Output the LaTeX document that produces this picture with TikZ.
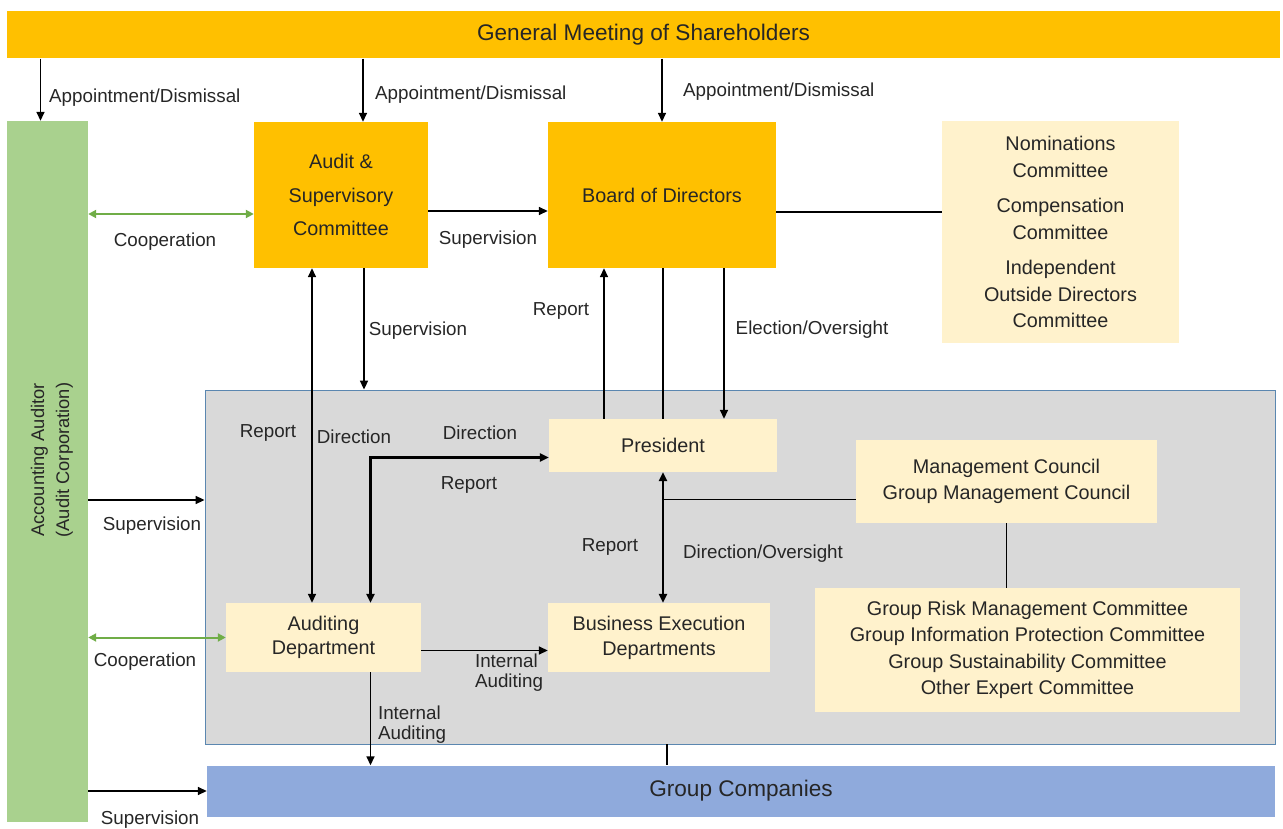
\documentclass[tikz,border=0pt]{standalone}
\usepackage{fontspec}
\setmainfont{Liberation Sans}
\usetikzlibrary{arrows.meta,calc}

\definecolor{gold}{HTML}{FFC000}
\definecolor{leaf}{HTML}{A9D18E}
\definecolor{cream}{HTML}{FFF2CC}
\definecolor{fog}{HTML}{D9D9D9}
\definecolor{sky}{HTML}{8FAADC}
\definecolor{coopgreen}{HTML}{70AD47}
\definecolor{frame}{HTML}{5B87B0}
\definecolor{ink}{HTML}{262626}

\begin{document}
\begin{tikzpicture}[x=1pt,y=-1pt,
    box/.style={inner sep=0pt, align=center, text=ink, font=\fontsize{19.8}{26.5}\selectfont},
    body/.style={box, fill=gold},
    unit/.style={box, fill=cream},
    tag/.style={inner sep=0pt, align=left, text=ink, font=\fontsize{18.8}{20}\selectfont},
    arr/.style={-{Triangle[length=9pt,width=8pt]}, line width=1.6pt},
    both/.style={{Triangle[length=9pt,width=8pt]}-{Triangle[length=9pt,width=8pt]}, line width=1.6pt},
    heavy/.style={both, line width=2.6pt},
    link/.style={line width=1.6pt},
    coop/.style={{Triangle[length=8pt,width=8pt]}-{Triangle[length=8pt,width=8pt]}, line width=2pt, draw=coopgreen}]
  \useasboundingbox (0,0) rectangle (1283,829);

  % Define nodes
  \node[body, minimum width=1273pt, minimum height=47pt, font=\fontsize{22.6}{26}\selectfont] (gms) at (643.5,35) {General Meeting of Shareholders};
  \node[box, fill=leaf, minimum width=81pt, minimum height=701pt] (aa) at (47.5,471.5) {};
  \node[box, rotate=90, font=\fontsize{18.3}{25}\selectfont] (aaname) at (52,460) {Accounting Auditor\\(Audit Corporation)};
  \node[body, minimum width=174pt, minimum height=146pt, font=\fontsize{19.8}{33.5}\selectfont] (asc) at (341,195) {Audit \&\\Supervisory\\Committee};
  \node[body, minimum width=228pt, minimum height=146pt] (bod) at (662,195) {Board of Directors};
  \node[unit, minimum width=237pt, minimum height=222pt] (cmt) at (1060.5,232) {Nominations\\Committee\\[9pt]Compensation\\Committee\\[9pt]Independent\\Outside Directors\\Committee};
  \node[draw=frame, fill=fog, line width=0.8pt, inner sep=0pt, minimum width=1070pt, minimum height=354pt] (ops) at (740,567) {};
  \node[unit, minimum width=228pt, minimum height=53pt] (pres) at (663,445.5) {President};
  \node[unit, minimum width=301pt, minimum height=83pt] (mc) at (1006.5,481.5) {Management Council\\Group Management Council};
  \node[unit, minimum width=425pt, minimum height=124pt] (grc) at (1027.5,650) {Group Risk Management Committee\\Group Information Protection Committee\\Group Sustainability Committee\\Other Expert Committee};
  \node[unit, minimum width=195pt, minimum height=69pt, font=\fontsize{19.8}{24}\selectfont] (aud) at (323.5,637.5) {Auditing\\Department};
  \node[unit, minimum width=222pt, minimum height=69pt, font=\fontsize{19.8}{25}\selectfont] (bed) at (659,637.5) {Business Execution\\Departments};
  \node[box, fill=sky, minimum width=1068pt, minimum height=51pt, font=\fontsize{22.6}{26}\selectfont] (gco) at (741,791) {Group Companies};

  % Labels
  \node[tag, anchor=west] (l1) at (49,98) {Appointment/Dismissal};
  \node[tag, anchor=west] (l2) at (375,95) {Appointment/Dismissal};
  \node[tag, anchor=west] (l3) at (683,92) {Appointment/Dismissal};
  \node[tag] (l4) at (165,242) {Cooperation};
  \node[tag] (l5) at (488,240) {Supervision};
  \node[tag] (l6) at (268,433) {Report};
  \node[tag] (l7) at (354,437) {Direction};
  \node[tag] (l8) at (418,331) {Supervision};
  \node[tag] (l9) at (561,311) {Report};
  \node[tag] (l10) at (812,330) {Election/Oversight};
  \node[tag] (l11) at (480,433) {Direction};
  \node[tag] (l12) at (469,485) {Report};
  \node[tag] (l13) at (610,547) {Report};
  \node[tag] (l14) at (763,554) {Direction/Oversight};
  \node[tag] (l15) at (152,526) {Supervision};
  \node[tag] (l16) at (145,662) {Cooperation};
  \node[tag] (l17) at (509,673) {Internal\\Auditing};
  \node[tag] (l18) at (412,725) {Internal\\Auditing};
  \node[tag] (l19) at (150,820) {Supervision};

  % Connect the nodes
  \coordinate (p1) at ($(aa.north)+(-7,0)$);
  \draw[arr] (gms.south -| p1) -- (p1);
  \coordinate (p2) at ($(asc.north)+(22,0)$);
  \draw[arr] (gms.south -| p2) -- (p2);
  \draw[arr] (gms.south -| bod.north) -- (bod.north);
  \draw[coop] ($(aa.east |- asc.west)+(0,19)$) -- ($(asc.west)+(0,19)$);
  \draw[arr] ($(asc.east)+(0,16)$) -- ($(bod.west)+(0,16)$);
  \draw[link] ($(bod.east)+(0,17)$) -- ($(cmt.west)+(0,-20)$);
  \coordinate (p3) at ($(asc.south)+(-29,0)$);
  \draw[both] (p3) -- (p3 |- aud.north);
  \coordinate (p4) at ($(asc.south)+(23,0)$);
  \draw[arr] (p4) -- (p4 |- ops.north);
  \draw[heavy] ($(pres.west)+(0,12)$) -| ($(aud.north)+(47,0)$);
  \coordinate (p5) at ($(pres.north)+(-59,0)$);
  \draw[arr] (p5) -- (p5 |- bod.south);
  \draw[link] (pres.north) -- (pres.north |- bod.south);
  \coordinate (p6) at ($(pres.north)+(61,0)$);
  \draw[arr] (p6 |- bod.south) -- (p6);
  \draw[heavy] (pres.south) -- (pres.south |- bed.north);
  \coordinate (p7) at ($(mc.west)+(0,18)$);
  \draw[link] (p7) -- (p7 -| pres.south);
  \draw[link] (mc.south) -- (mc.south |- grc.north);
  \draw[arr] ($(aa.east |- ops.west)+(0,-67)$) -- ($(ops.west)+(0,-67)$);
  \draw[coop] (aa.east |- aud.west) -- (aud.west);
  \draw[arr] ($(aud.east)+(0,13)$) -- ($(bed.west)+(0,13)$);
  \coordinate (p8) at ($(aud.south)+(47,0)$);
  \draw[arr] (p8) -- (p8 |- gco.north);
  \coordinate (p9) at ($(ops.south)+(-73,0)$);
  \draw[link] (p9) -- (p9 |- gco.north);
  \draw[arr] (aa.east |- gco.west) -- (gco.west);
\end{tikzpicture}
\end{document}
